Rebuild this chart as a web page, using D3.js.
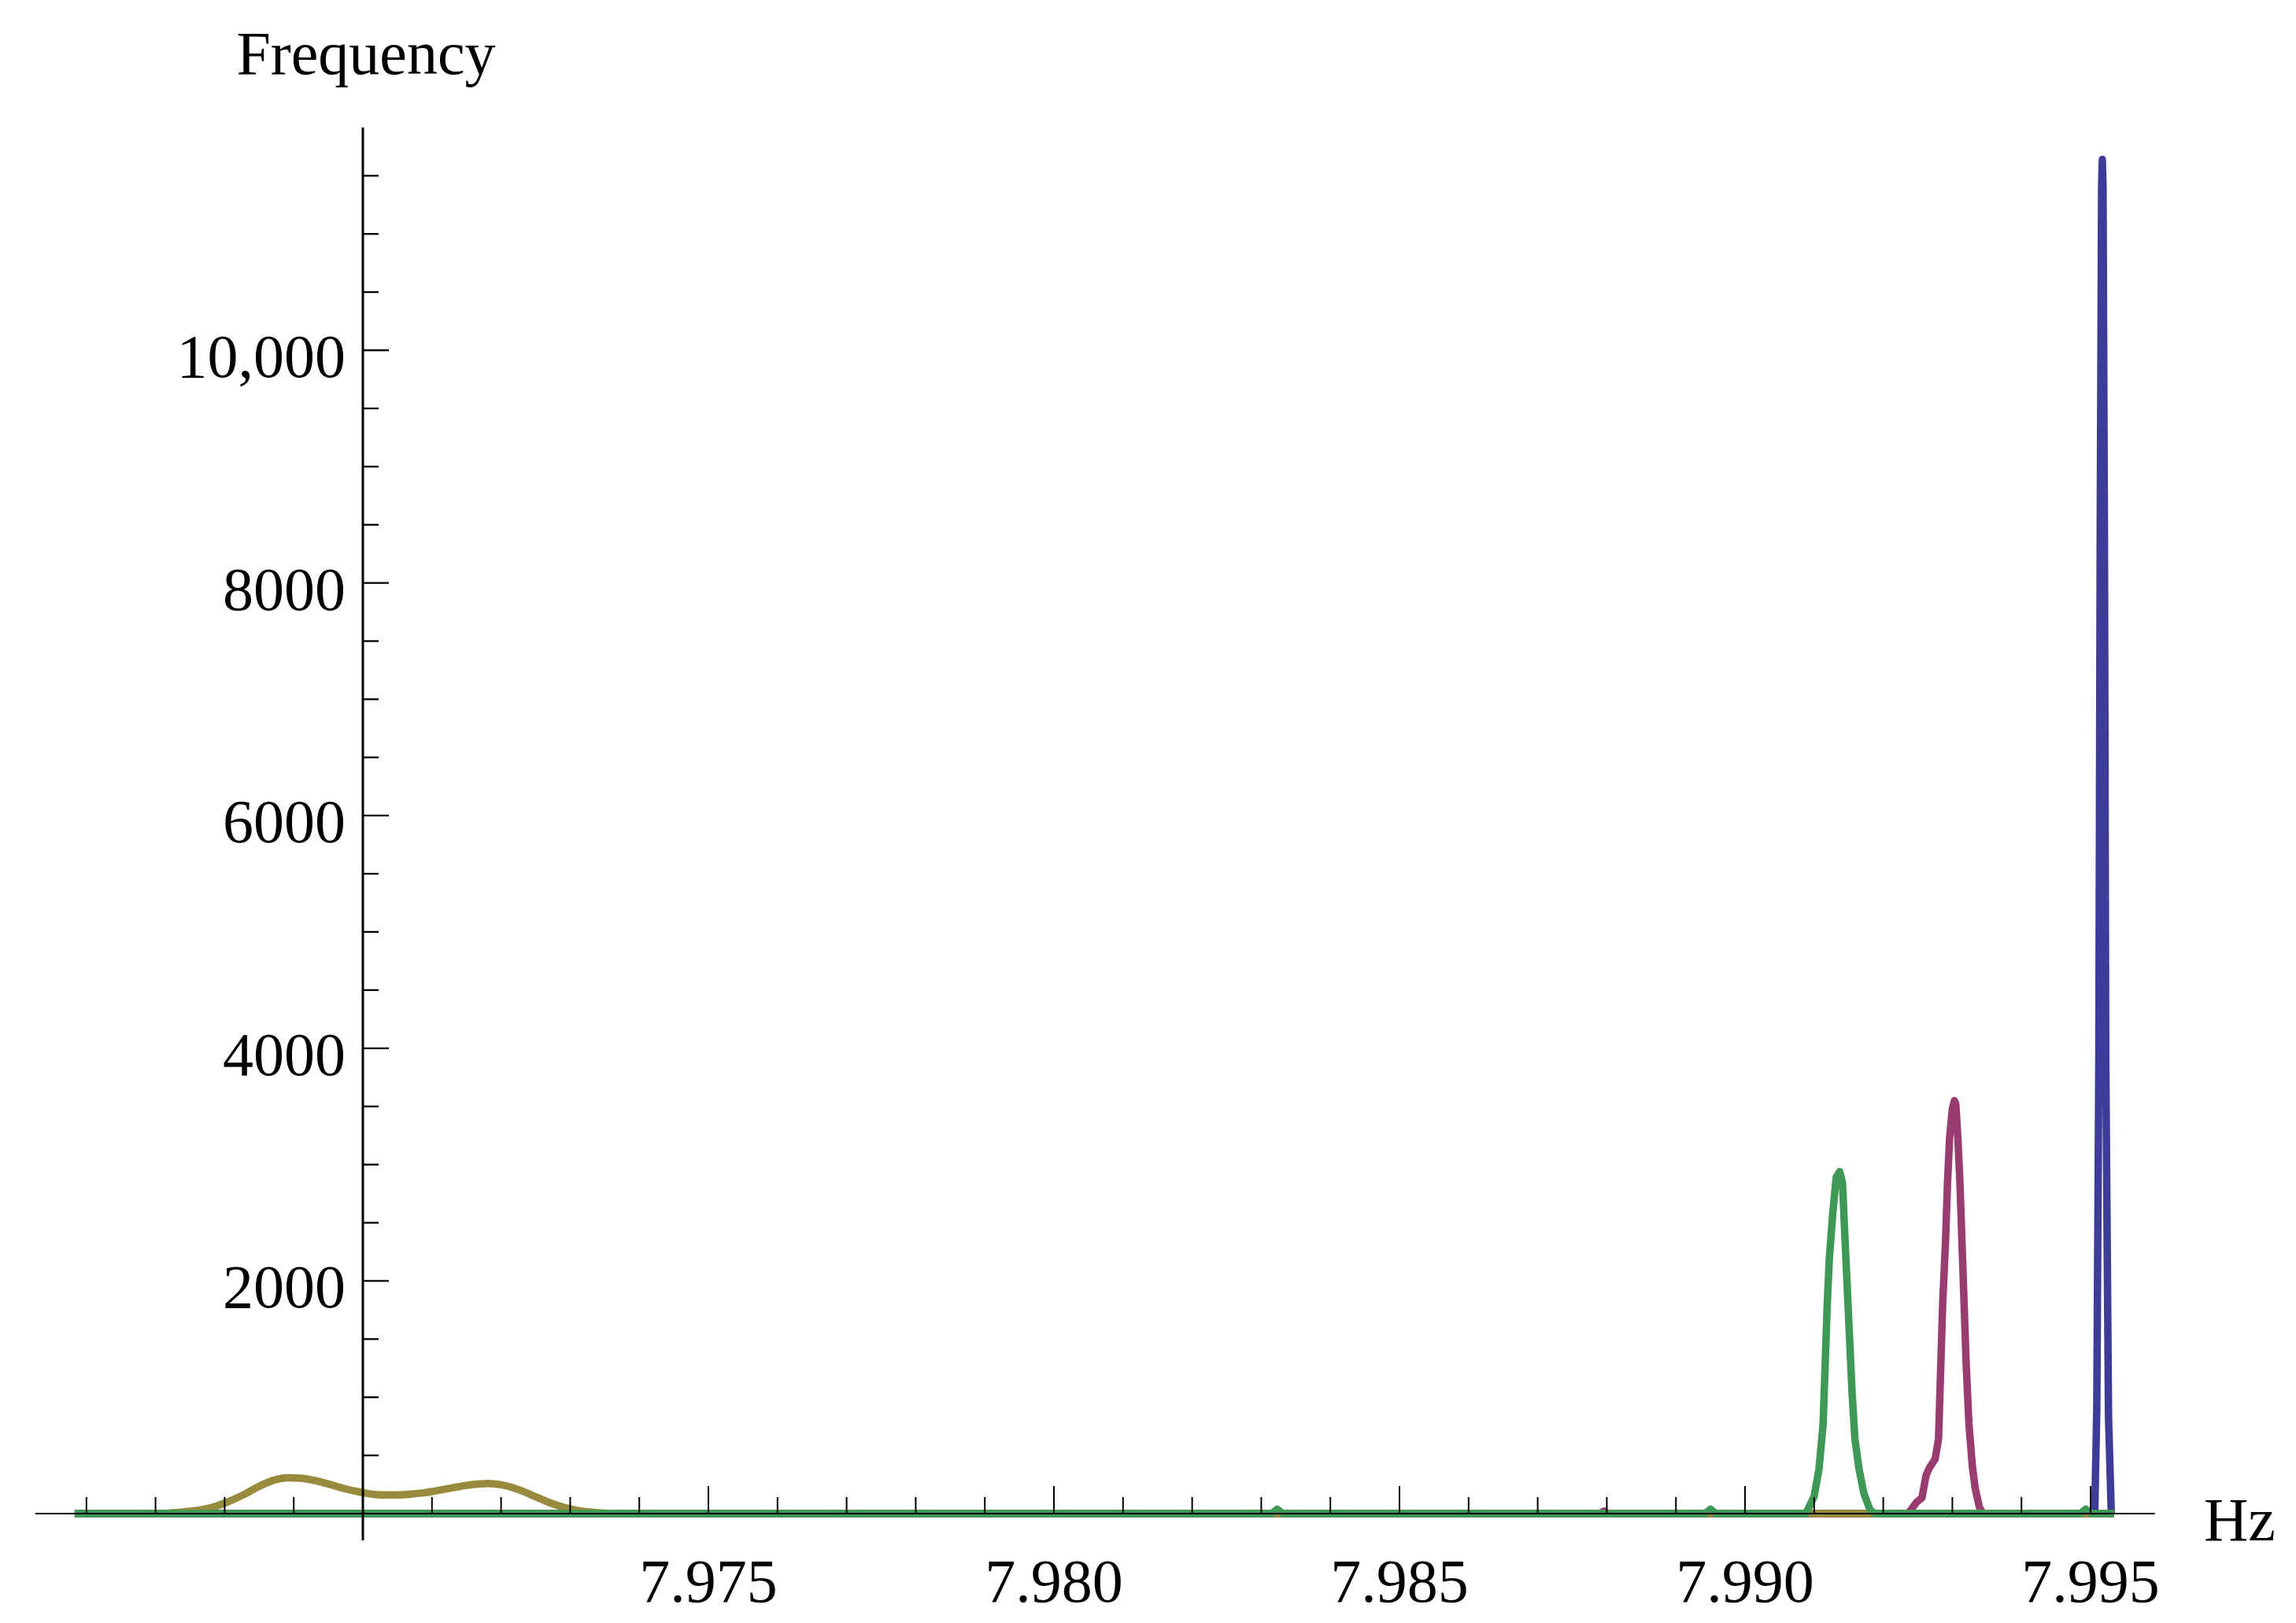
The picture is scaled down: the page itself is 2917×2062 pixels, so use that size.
<!DOCTYPE html>
<html><head><meta charset="utf-8">
<script src="https://cdn.jsdelivr.net/npm/d3@7"></script>
<style>html,body{margin:0;padding:0;background:#fff;} svg{display:block;}</style>
</head><body>
<svg id="chart" width="2917" height="2062"></svg>
<script>
// ---- data ----
const xTickValues = [7.975, 7.980, 7.985, 7.990, 7.995];
const xTickLabels = ["7.975", "7.980", "7.985", "7.990", "7.995"];
const yTickValues = [2000, 4000, 6000, 8000, 10000];
const yTickLabels = ["2000", "4000", "6000", "8000", "10,000"];
const xAxisTitle = "Hz";
const yAxisTitle = "Frequency";

const blueSeries = [
  [7.96583, 0], [7.99506, 0], [7.99509, 900], [7.99512, 3900], [7.99514, 8500],
  [7.99516, 11400], [7.99517, 11640], [7.99518, 11400], [7.99520, 8500],
  [7.99522, 3900], [7.99526, 830], [7.99530, 0], [7.99534, 0]
];
const magentaSeries = [
  [7.96583, 0], [7.98790, 0], [7.98796, 22], [7.98802, 0], [7.99235, 0],
  [7.99240, 30], [7.99248, 97], [7.99256, 135], [7.99262, 330], [7.99267, 395],
  [7.99275, 467], [7.99280, 643], [7.99282, 1030], [7.99286, 1806], [7.99290, 2321],
  [7.99293, 2842], [7.99296, 3227], [7.99300, 3480], [7.99303, 3550], [7.99305, 3520],
  [7.99308, 3227], [7.99311, 2842], [7.99314, 2321], [7.99317, 1806], [7.99320, 1285],
  [7.99324, 771], [7.99329, 405], [7.99333, 220], [7.99339, 57], [7.99344, 0],
  [7.99534, 0]
];
const oliveSeries = [
  [7.96583, 0], [7.9670, 0], [7.9672, 5], [7.9675, 20], [7.9678, 50], [7.9680, 90],
  [7.9683, 170], [7.9685, 235], [7.9687, 285], [7.9689, 308], [7.9691, 305],
  [7.9693, 285], [7.9695, 255], [7.9697, 220], [7.9699, 192], [7.9701, 170],
  [7.9703, 160], [7.9705, 160], [7.9707, 168], [7.9709, 180], [7.9711, 200],
  [7.9713, 222], [7.9715, 243], [7.9717, 255], [7.9718, 258], [7.9719, 255],
  [7.9721, 235], [7.9723, 195], [7.9725, 145], [7.9727, 95], [7.9729, 55],
  [7.9731, 28], [7.9733, 12], [7.9735, 4], [7.9737, 0], [7.99534, 0]
];
const greenSeries = [
  [7.96583, 0], [7.98315, 0], [7.98323, 38], [7.98331, 0], [7.98942, 0],
  [7.98950, 38], [7.98958, 0], [7.99088, 0], [7.99100, 148], [7.99107, 382],
  [7.99113, 771], [7.99116, 1285], [7.99119, 1806], [7.99122, 2192], [7.99127, 2583],
  [7.99132, 2893], [7.99137, 2940], [7.99141, 2842], [7.99144, 2448], [7.99147, 2060],
  [7.99151, 1546], [7.99155, 1030], [7.99159, 642], [7.99165, 382], [7.99172, 173],
  [7.99181, 30], [7.99188, 0], [7.99485, 0], [7.99493, 38], [7.99501, 0], [7.99534, 0]
];
const seriesList = [blueSeries, magentaSeries, oliveSeries, greenSeries];
const seriesColors = ["#3d3d99", "#993d71", "#998b3d", "#3d9955"];
const seriesSmooth = [false, false, true, false];

// ---- layout ----
const svg = d3.select("#chart");
svg.append("rect").attr("width", 2917).attr("height", 2062).attr("fill", "#fff");

const x = d3.scaleLinear().domain([7.970, 7.995]).range([461, 2656]);
const y = d3.scaleLinear().domain([0, 10000]).range([1923, 445]);
const xExtent = [7.96526, 7.99593];
const yExtent = [-230, 11915];
const FONT = "'Liberation Serif', 'Times New Roman', Times, serif";
const FS = 78;

// ---- data lines ----
const gData = svg.append("g");
seriesList.forEach((s, i) => {
  const line = d3.line()
    .x(d => x(d[0]))
    .y(d => y(d[1]))
    .curve(seriesSmooth[i] ? d3.curveMonotoneX : d3.curveLinear);
  gData.append("path")
    .attr("d", line(s))
    .attr("fill", "none")
    .attr("stroke", seriesColors[i])
    .attr("stroke-width", 9.5)
    .attr("stroke-linejoin", "round")
    .attr("stroke-linecap", "butt");
});

// ---- axes ----
const gAx = svg.append("g").attr("stroke", "#000");
gAx.append("line")
  .attr("x1", x(xExtent[0])).attr("x2", x(xExtent[1]))
  .attr("y1", y(0)).attr("y2", y(0)).attr("stroke-width", 2.2);
gAx.append("line")
  .attr("x1", x(7.970)).attr("x2", x(7.970))
  .attr("y1", y(yExtent[0])).attr("y2", y(yExtent[1])).attr("stroke-width", 3);

const xMinor = d3.range(7966, 7996).map(v => v / 1000)
  .filter(v => v > xExtent[0] && v < xExtent[1] && Math.abs(v - 7.970) > 1e-9 &&
    !xTickValues.some(t => Math.abs(t - v) < 1e-9));
gAx.selectAll(".xminor").data(xMinor).enter().append("line")
  .attr("x1", d => x(d)).attr("x2", d => x(d))
  .attr("y1", y(0)).attr("y2", y(0) - 21).attr("stroke-width", 2);
gAx.selectAll(".xmajor").data(xTickValues).enter().append("line")
  .attr("x1", d => x(d)).attr("x2", d => x(d))
  .attr("y1", y(0)).attr("y2", y(0) - 35).attr("stroke-width", 2);

const yMinor = d3.range(500, 12000, 500)
  .filter(v => v < yExtent[1] && !yTickValues.includes(v));
gAx.selectAll(".yminor").data(yMinor).enter().append("line")
  .attr("x1", x(7.970)).attr("x2", x(7.970) + 20)
  .attr("y1", d => y(d)).attr("y2", d => y(d)).attr("stroke-width", 2.3);
gAx.selectAll(".ymajor").data(yTickValues).enter().append("line")
  .attr("x1", x(7.970)).attr("x2", x(7.970) + 33)
  .attr("y1", d => y(d)).attr("y2", d => y(d)).attr("stroke-width", 2.3);

// ---- labels ----
const gT = svg.append("g").attr("font-family", FONT).attr("font-size", FS).attr("fill", "#000");
gT.selectAll(".xl").data(xTickValues).enter().append("text")
  .attr("x", d => x(d)).attr("y", 2035)
  .attr("text-anchor", "middle")
  .text((d, i) => xTickLabels[i]);
gT.selectAll(".yl").data(yTickValues).enter().append("text")
  .attr("x", x(7.970) - 22).attr("y", d => y(d) + 34)
  .attr("text-anchor", "end")
  .text((d, i) => yTickLabels[i]);
gT.append("text").attr("x", x(7.970) + 4).attr("y", 94)
  .attr("text-anchor", "middle").text(yAxisTitle);
gT.append("text").attr("x", 2800).attr("y", y(0) + 34)
  .attr("text-anchor", "start").text(xAxisTitle);
</script>
</body></html>
